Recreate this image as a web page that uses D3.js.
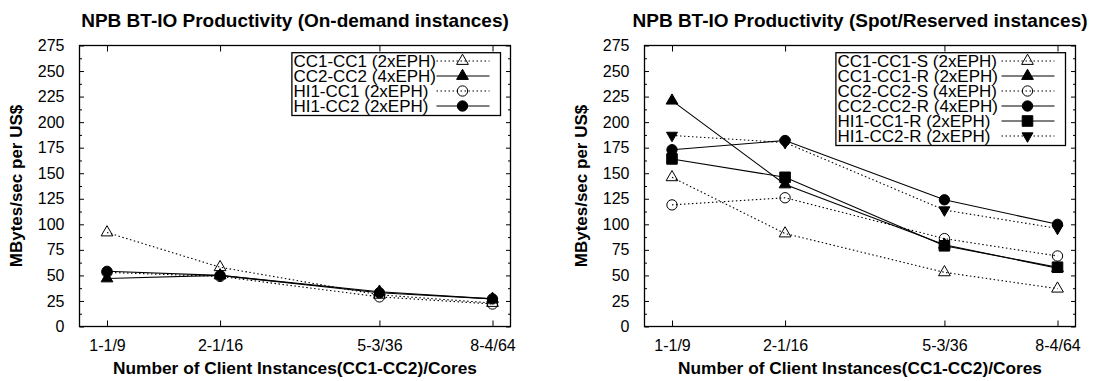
<!DOCTYPE html>
<html>
<head>
<meta charset="utf-8">
<script src="https://cdn.jsdelivr.net/npm/d3@7"></script>
<style>
  html, body { margin: 0; padding: 0; background: #fff; }
  svg { display: block; }
  text { font-family: "Liberation Sans", Arial, Helvetica, sans-serif; fill: #000; }
</style>
</head>
<body>
<svg id="chart" width="1100" height="381"></svg>
<script>
// Client configurations on the x axis and their total core counts
const categories = ["1-1/9", "2-1/16", "5-3/36", "8-4/64"];
const cores = [9, 16, 36, 64];
const yTickValues = [0, 25, 50, 75, 100, 125, 150, 175, 200, 225, 250, 275];

// On-demand instances (MBytes/sec per US$)
const onDemandNames = ["CC1-CC1 (2xEPH)", "CC2-CC2 (4xEPH)", "HI1-CC1 (2xEPH)", "HI1-CC2 (2xEPH)"];
const cc1cc1 = [92, 58, 31, 23];
const cc2cc2 = [47, 50, 34, 27];
const hi1cc1 = [53, 49, 29, 22];
const hi1cc2 = [54, 50, 33, 27];

// Spot / Reserved instances (MBytes/sec per US$)
const spotNames = ["CC1-CC1-S (2xEPH)", "CC1-CC1-R (2xEPH)", "CC2-CC2-S (4xEPH)",
                   "CC2-CC2-R (4xEPH)", "HI1-CC1-R (2xEPH)", "HI1-CC2-R (2xEPH)"];
const cc1cc1S = [146, 91, 53, 37];
const cc1cc1R = [221, 139, 80, 57];
const cc2cc2S = [119, 126, 86, 69];
const cc2cc2R = [173, 182, 124, 100];
const hi1cc1R = [164, 146, 79, 58];
const hi1cc2R = [187, 180, 114, 96];

// Line and point styles per series
const styleTriOpen   = { dash: true,  marker: "triangle", filled: false };
const styleTriFill   = { dash: false, marker: "triangle", filled: true };
const styleCircOpen  = { dash: true,  marker: "circle",   filled: false };
const styleCircFill  = { dash: false, marker: "circle",   filled: true };
const styleSquare    = { dash: false, marker: "square",   filled: true };
const styleTriDown   = { dash: true,  marker: "down",     filled: true };

const svg = d3.select("#chart");

const W = 431, H = 281;

function markerPath(type) {
  if (type === "triangle") return d3.symbol(d3.symbolTriangle, 60)();
  if (type === "down") return d3.symbol(d3.symbolTriangle, 52)();
  if (type === "circle") return d3.symbol(d3.symbolCircle, 84)();
  return d3.symbol(d3.symbolSquare, 112)();
}

function drawMarker(g, type, filled, x, y) {
  g.append("path")
    .attr("d", markerPath(type))
    .attr("transform", `translate(${x},${y})` + (type === "down" ? " rotate(180)" : ""))
    .attr("fill", filled ? "#000" : "none")
    .attr("stroke", "#000")
    .attr("stroke-width", 1);
}

function drawChart(left, top, title, names, seriesList, styles, legend) {
  const g = svg.append("g").attr("transform", `translate(${left},${top})`);
  const x = d3.scaleLog().domain([9, 64]).range([27.5, 413]);
  const y = d3.scaleLinear().domain([0, 275]).range([H, 0]);

  // Title
  g.append("text")
    .attr("x", W / 2).attr("y", -19)
    .attr("text-anchor", "middle")
    .attr("font-size", 19).attr("font-weight", "bold")
    .text(title);

  // Axes with inward ticks, mirrored on the opposite sides
  const tickFmt = d3.format("d");
  g.append("g").call(d3.axisLeft(y).tickValues(yTickValues).tickSize(-4.5).tickPadding(15).tickFormat(tickFmt))
    .call(a => a.select(".domain").remove())
    .call(a => a.selectAll("text").attr("font-size", 16).attr("font-family", "Liberation Sans, Arial, sans-serif"));
  g.append("g").attr("transform", `translate(${W},0)`)
    .call(d3.axisRight(y).tickValues(yTickValues).tickSize(-4.5).tickFormat(""))
    .call(a => a.select(".domain").remove());
  const minor = yTickValues.slice(0, -1).map(v => v + 12.5);
  g.append("g").call(d3.axisLeft(y).tickValues(minor).tickSize(-2.5).tickFormat(""))
    .call(a => a.select(".domain").remove());
  g.append("g").attr("transform", `translate(${W},0)`)
    .call(d3.axisRight(y).tickValues(minor).tickSize(-2.5).tickFormat(""))
    .call(a => a.select(".domain").remove());

  g.append("g").attr("transform", `translate(0,${H})`)
    .call(d3.axisBottom(x).tickValues(cores).tickSize(-6).tickPadding(13)
      .tickFormat(d => categories[cores.indexOf(d)]))
    .call(a => a.select(".domain").remove())
    .call(a => a.selectAll("text").attr("font-size", 16).attr("font-family", "Liberation Sans, Arial, sans-serif"));
  g.append("g")
    .call(d3.axisTop(x).tickValues(cores).tickSize(-6).tickFormat(""))
    .call(a => a.select(".domain").remove());
  g.selectAll(".tick line").attr("stroke", "#000").attr("stroke-width", 1);

  // Frame
  g.append("rect").attr("x", 0).attr("y", 0).attr("width", W).attr("height", H)
    .attr("fill", "none").attr("stroke", "#000").attr("stroke-width", 1.3);

  // Axis titles
  g.append("text")
    .attr("transform", `translate(-58,${H / 2}) rotate(-90)`)
    .attr("text-anchor", "middle")
    .attr("font-size", 17).attr("font-weight", "bold")
    .text("MBytes/sec per US$");
  g.append("text")
    .attr("x", W / 2).attr("y", H + 47.5)
    .attr("text-anchor", "middle")
    .attr("font-size", 17.3).attr("font-weight", "bold")
    .text("Number of Client Instances(CC1-CC2)/Cores");

  // Series lines and points
  const line = d3.line().x((d, i) => x(cores[i])).y(d => y(d));
  seriesList.forEach((vals, k) => {
    const st = styles[k];
    g.append("path").datum(vals)
      .attr("d", line)
      .attr("fill", "none")
      .attr("stroke", "#000")
      .attr("stroke-width", 1.1)
      .attr("stroke-dasharray", st.dash ? "1.5,2.5" : null);
    const pg = g.append("g");
    vals.forEach((v, i) => drawMarker(pg, st.marker, st.filled, x(cores[i]), y(v)));
  });

  // Legend
  const lw = legend.width, rowH = 15, n = names.length;
  const lx = W - 10 - lw, ly = 7.2;
  const lg = g.append("g").attr("transform", `translate(${lx},${ly})`);
  lg.append("rect").attr("width", lw).attr("height", n * rowH + 2.8)
    .attr("fill", "#fff").attr("stroke", "#000").attr("stroke-width", 1.3);
  names.forEach((name, k) => {
    const cy = 8.3 + k * rowH;
    const st = styles[k];
    lg.append("text").attr("x", 1.5).attr("y", cy).attr("dy", "0.36em")
      .attr("font-size", 17).text(name);
    lg.append("line")
      .attr("x1", lw - 64).attr("x2", lw - 11).attr("y1", cy).attr("y2", cy)
      .attr("stroke", "#000").attr("stroke-width", 1.1)
      .attr("stroke-dasharray", st.dash ? "1.5,2.5" : null);
    drawMarker(lg, st.marker, st.filled, lw - 38, cy);
  });
}

drawChart(79.5, 45.5, "NPB BT-IO Productivity (On-demand instances)",
  onDemandNames, [cc1cc1, cc2cc2, hi1cc1, hi1cc2],
  [styleTriOpen, styleTriFill, styleCircOpen, styleCircFill], { width: 208.6 });

drawChart(644.5, 45.5, "NPB BT-IO Productivity (Spot/Reserved instances)",
  spotNames, [cc1cc1S, cc1cc1R, cc2cc2S, cc2cc2R, hi1cc1R, hi1cc2R],
  [styleTriOpen, styleTriFill, styleCircOpen, styleCircFill, styleSquare, styleTriDown], { width: 229.6 });
</script>
</body>
</html>
